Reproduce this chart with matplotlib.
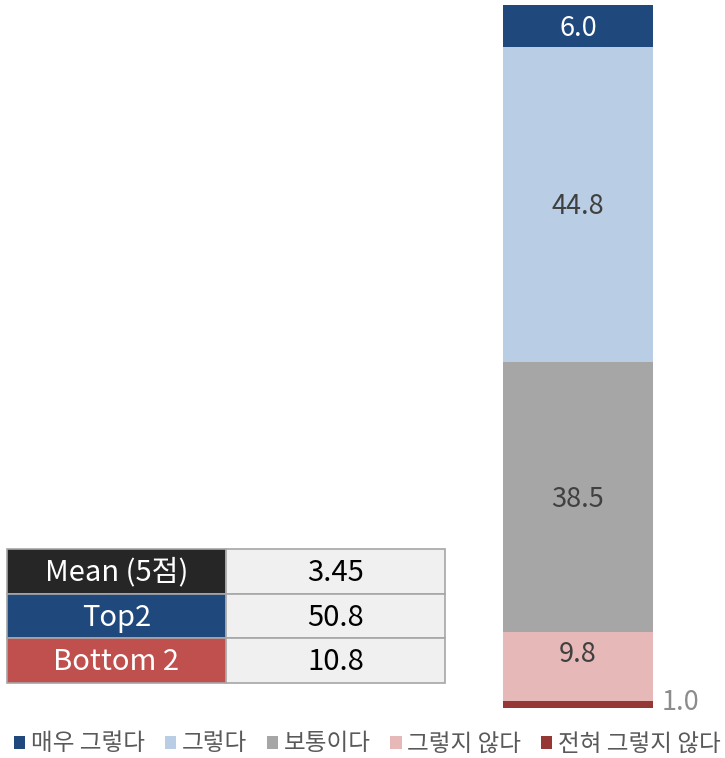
import matplotlib
matplotlib.use("Agg")
import matplotlib.pyplot as plt
from matplotlib.patches import Rectangle, Patch

plt.rcParams['font.family'] = ['Noto Sans CJK KR', 'DejaVu Sans']

# data
categories = ["전혀 그렇지 않다", "그렇지 않다", "보통이다", "그렇다", "매우 그렇다"]
values = [1.0, 9.8, 38.5, 44.8, 6.0]
colors = ["#953735", "#E6B9B8", "#A6A6A6", "#B9CDE5", "#1F497D"]
label_colors = ["#8C8C8C", "#404040", "#404040", "#404040", "#FFFFFF"]

table_names = ["Mean (5점)", "Top2", "Bottom 2"]
table_values = ["3.45", "50.8", "10.8"]
table_colors = ["#262626", "#1F497D", "#C0504D"]

W, H = 725, 758
fig = plt.figure(figsize=(W / 100, H / 100), dpi=100)

# stacked bar
ax = fig.add_axes([503 / W, (H - 708) / H, 150 / W, 703 / H])
total = sum(values)
bottom = 0
for i, (v, c) in enumerate(zip(values, colors)):
    ax.bar(0, v, bottom=bottom, width=1.0, color=c, linewidth=0)
    if i == 0:
        ax.text(0.56, bottom + v / 2 + 0.3, f"{v:.1f}", ha="left", va="center",
                fontsize=19.5, color=label_colors[i], clip_on=False)
    elif i == 1:
        ax.text(0, bottom + v / 2 + 1.7, f"{v:.1f}", ha="center", va="center",
                fontsize=19.5, color=label_colors[i])
    else:
        ax.text(0, bottom + v / 2 - 0.3, f"{v:.1f}", ha="center", va="center",
                fontsize=19.5, color=label_colors[i])
    bottom += v
ax.set_xlim(-0.5, 0.5)
ax.set_ylim(0, total)
ax.axis("off")

# summary table (layout axes in pixel units)
tax = fig.add_axes([0, 0, 1, 1])
tax.set_xlim(0, W)
tax.set_ylim(H, 0)
tax.axis("off")
row_top, row_h = 549, 44.7
x0, x1, x2 = 7, 226, 445
for i, (name, val, c) in enumerate(zip(table_names, table_values, table_colors)):
    y = row_top + i * row_h
    tax.add_patch(Rectangle((x0, y), x1 - x0, row_h, facecolor=c,
                            edgecolor="#A6A6A6", linewidth=1.2))
    tax.add_patch(Rectangle((x1, y), x2 - x1, row_h, facecolor="#F0F0F0",
                            edgecolor="#A6A6A6", linewidth=1.2))
    tax.text((x0 + x1) / 2, y + row_h / 2 + 1.5, name, ha="center", va="center",
             fontsize=21, color="white")
    tax.text((x1 + x2) / 2, y + row_h / 2 + 1.5, val, ha="center", va="center",
             fontsize=21, color="black")

# legend
handles = [Patch(facecolor=c, edgecolor="none") for c in colors[::-1]]
fig.legend(handles, categories[::-1], loc="center", bbox_to_anchor=(0.507, 1 - 744 / H),
           ncol=5, frameon=False, handlelength=0.47, handleheight=0.47,
           handletextpad=0.25, columnspacing=0.83, labelcolor="#595959",
           prop={'family': ['Noto Sans CJK KR'], 'size': 17})

fig.savefig("out.png", dpi=100)
